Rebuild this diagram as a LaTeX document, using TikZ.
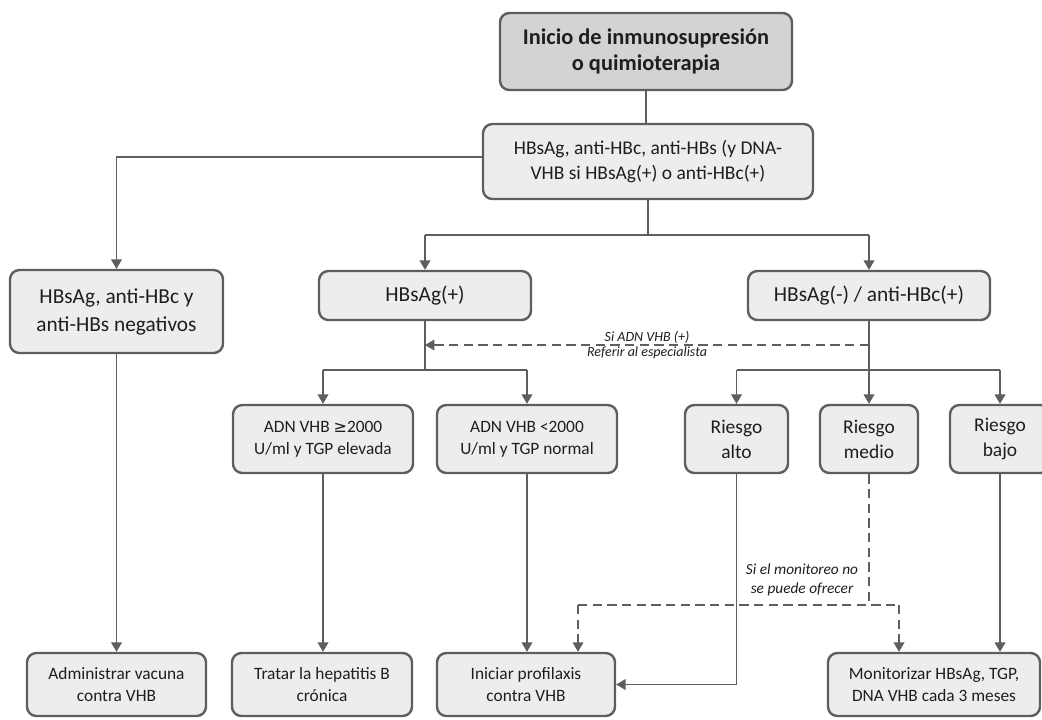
\documentclass[tikz,border=0pt]{standalone}
\usepackage{fontspec}
\setmainfont{Carlito}
\newfontfamily\symfont{DejaVu Sans}
\usetikzlibrary{arrows.meta}

\definecolor{linegray}{HTML}{5E5E5E}
\definecolor{boxfill}{HTML}{EDEDED}
\definecolor{topfill}{HTML}{D3D3D3}
\definecolor{ink}{HTML}{1E1E1E}

\tikzset{
  box/.style={draw=linegray, line width=1.8pt, fill=boxfill, rounded corners=7pt,
    align=center, inner sep=0pt, text=ink},
  fbig/.style={font=\fontsize{16}{21}\selectfont},
  fmid/.style={font=\fontsize{14.6}{18.8}\selectfont},
  fsmall/.style={font=\fontsize{13}{16.3}\selectfont},
  trunk/.style={draw=linegray, line width=1.6pt},
  branch/.style={draw=linegray, line width=0.95pt},
  tip/.style={-{Triangle[width=8pt,length=7pt]}},
  dashedline/.style={draw=linegray, line width=0.95pt, dash pattern=on 7pt off 4pt},
  note/.style={font=\fontsize{10.5}{12.5}\selectfont\itshape, text=ink, inner sep=1pt},
}

\begin{document}
\begin{tikzpicture}[x=0.75pt, y=-0.75pt]
\useasboundingbox (0,0) rectangle (1042,719);

% levels of the horizontal connector runs
\coordinate (lvA) at (0,235);
\coordinate (lvD) at (0,345);
\coordinate (lvB) at (0,370);
\coordinate (lvC) at (0,605);

% boxes
\node[box, fill=topfill, minimum width=219pt, minimum height=57.75pt,
      font=\fontsize{16.8}{19}\selectfont\bfseries] (top) at (646,51.5)
      {Inicio de inmunosupresión\\o quimioterapia};
\node[box, fmid, minimum width=247.5pt, minimum height=56.25pt] (q) at (648,161.5)
      {HBsAg, anti-HBc, anti-HBs (y DNA-\\VHB si HBsAg(+) o anti-HBc(+)};
\node[box, fbig, minimum width=159.75pt, minimum height=62.25pt] (neg) at (116.5,311.5)
      {HBsAg, anti-HBc y\\anti-HBs negativos};
\node[box, fbig, minimum width=159pt, minimum height=36.75pt] (pos) at (425,295.5)
      {HBsAg(+)};
\node[box, fbig, minimum width=181.5pt, minimum height=36.75pt] (negc) at (869,295.5)
      {HBsAg(-) / anti-HBc(+)};

\node[box, fsmall, minimum width=135pt, minimum height=51pt] (adn1) at (323,439)
      {ADN VHB {\symfont\fontsize{12}{16.3}\selectfont ≥}2000\\U/ml y TGP elevada};
\node[box, fsmall, minimum width=135pt, minimum height=51pt] (adn2) at (527,439)
      {ADN VHB <2000\\U/ml y TGP normal};
\node[box, fmid, minimum width=77.25pt, minimum height=51pt] (alto) at (736.5,439)
      {Riesgo\\alto};
\node[box, fmid, minimum width=73.5pt, minimum height=51pt] (medio) at (869,439)
      {Riesgo\\medio};
\node[box, fmid, minimum width=75pt, minimum height=51pt] (bajo) at (1000,439)
      {Riesgo\\bajo};

\node[box, fsmall, minimum width=134.25pt, minimum height=47.25pt] (adm) at (116.5,684.5)
      {Administrar vacuna\\contra VHB};
\node[box, fsmall, minimum width=135pt, minimum height=47.25pt] (trat) at (322,684.5)
      {Tratar la hepatitis B\\crónica};
\node[box, fsmall, minimum width=133.5pt, minimum height=47.25pt] (ini) at (526,684.5)
      {Iniciar profilaxis\\contra VHB};
\node[box, fsmall, minimum width=159pt, minimum height=47.25pt] (mon) at (934,684.5)
      {Monitorizar HBsAg, TGP,\\DNA VHB cada 3 meses};

% first split
\draw[trunk] (top.south) -- (top.south |- q.north);
\draw[branch, tip] ([yshift=3.4pt]q.west) -| (neg.north);
\draw[trunk] (q.south) -- (q.south |- lvA);
\draw[trunk] (pos.north |- lvA) -- (negc.north |- lvA);
\draw[branch, line width=1.2pt, tip] (pos.north |- lvA) -- (pos.north);
\draw[branch, tip] (negc.north |- lvA) -- (negc.north);

% HBsAg(+) branch
\draw[trunk] (pos.south) -- (pos.south |- lvB);
\draw[trunk] (adn1.north |- lvB) -- (adn2.north |- lvB);
\draw[branch, tip] (adn1.north |- lvB) -- (adn1.north);
\draw[branch, tip] (adn2.north |- lvB) -- (adn2.north);

% referral from the anti-HBc(+) branch
\draw[dashedline, tip] (negc.south |- lvD) -- (pos.south |- lvD)
  node[midway, above, note] {Si ADN VHB (+)}
  node[midway, below, note] {Referir al especialista};

% anti-HBc(+) branch
\draw[branch] (negc.south) -- (negc.south |- lvB);
\draw[trunk] (alto.north |- lvB) -- (bajo.north |- lvB);
\draw[branch, tip] (alto.north |- lvB) -- (alto.north);
\draw[branch, tip] (medio.north |- lvB) -- (medio.north);
\draw[branch, tip] (bajo.north |- lvB) -- (bajo.north);

% outcomes
\draw[branch, tip] (neg.south) -- (neg.south |- adm.north);
\draw[branch, tip] (adn1.south) -- (adn1.south |- trat.north);
\draw[branch, tip] (adn2.south) -- (adn2.south |- ini.north);
\draw[branch, tip] (alto.south) |- (ini.east);
\draw[branch, tip] (bajo.south) -- (bajo.south |- mon.north);

% medium risk: monitoring, or prophylaxis when monitoring is not available
\coordinate (dl) at (578,605);
\coordinate (dr) at (899,605);
\draw[dashedline] (medio.south) -- (medio.south |- lvC);
\draw[dashedline] (dl) -- (dr);
\draw[dashedline, tip] (dl) -- (dl |- ini.north);
\draw[dashedline, tip] (dr) -- (dr |- mon.north);
\node[note, font=\fontsize{11.5}{14.5}\selectfont\itshape, align=center] (cond) at (802,580)
  {Si el monitoreo no\\se puede ofrecer};

\end{tikzpicture}
\end{document}
